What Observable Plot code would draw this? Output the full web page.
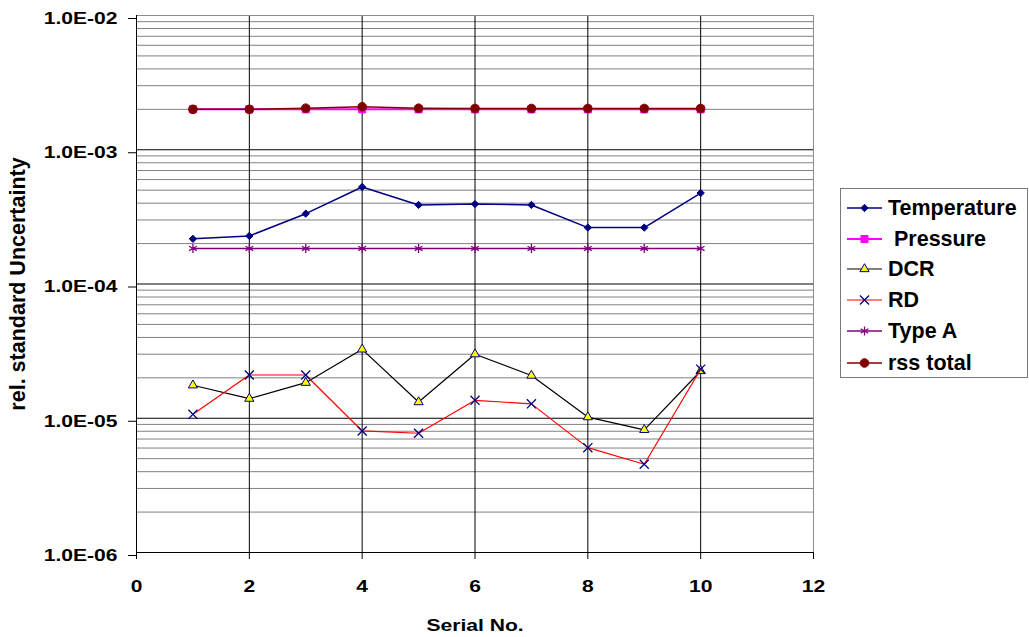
<!DOCTYPE html>
<html><head><meta charset="utf-8">
<script src="https://cdn.jsdelivr.net/npm/d3@7"></script>
<script src="https://cdn.jsdelivr.net/npm/@observablehq/plot@0.6"></script>
<style>
body{margin:0;background:#fff;}
#wrap{position:relative;width:1029px;height:637px;overflow:hidden;}
#legend{position:absolute;left:840px;top:188px;width:188px;height:190px;border:1px solid #7a7a7a;background:#fff;box-sizing:border-box;font-family:"Liberation Sans",Arial,sans-serif;font-weight:bold;font-size:21.5px;color:#000;}
.item{position:absolute;left:0;height:30px;display:flex;align-items:center;white-space:pre;}
.item svg{display:block;margin-left:6px;margin-right:5px;}
</style></head><body><div id="wrap"><div id="legend"></div></div>
<script>
// ---- data ----
const serial = [1, 2, 3, 4, 5, 6, 7, 8, 9, 10];
const temperature = [2.17e-4, 2.28e-4, 3.34e-4, 5.28e-4, 3.88e-4, 3.94e-4, 3.88e-4, 2.63e-4, 2.63e-4, 4.76e-4];
const pressure = [2.0e-3, 2.0e-3, 2.0e-3, 2.0e-3, 2.0e-3, 2.0e-3, 2.0e-3, 2.0e-3, 2.0e-3, 2.0e-3];
const dcr = [1.76e-5, 1.40e-5, 1.84e-5, 3.26e-5, 1.32e-5, 3.0e-5, 2.08e-5, 1.02e-5, 8.2e-6, 2.25e-5];
const rd = [1.07e-5, 2.10e-5, 2.10e-5, 8.04e-6, 7.73e-6, 1.36e-5, 1.28e-5, 6.04e-6, 4.54e-6, 2.32e-5];
const typeA = [1.84e-4, 1.84e-4, 1.84e-4, 1.84e-4, 1.84e-4, 1.84e-4, 1.84e-4, 1.84e-4, 1.84e-4, 1.84e-4];
const rssTotal = [2.0e-3, 2.0e-3, 2.04e-3, 2.09e-3, 2.04e-3, 2.03e-3, 2.03e-3, 2.03e-3, 2.03e-3, 2.03e-3];

const seriesNames = ["Temperature", " Pressure", "DCR", "RD", "Type A", "rss total"];
const xTicks = [0, 2, 4, 6, 8, 10, 12];
const yTicks = [1e-6, 1e-5, 1e-4, 1e-3, 1e-2];
const yTickLabels = ["1.0E-06", "1.0E-05", "1.0E-04", "1.0E-03", "1.0E-02"];
const xLabel = "Serial No.";
const yLabel = "rel. standard Uncertainty";

// ---- styles per series ----
const styles = [
  {values: temperature, line: "#000080", lw: 1.5, symbol: "diamond2", fill: "#000080", stroke: "#000080", r: 3.3},
  {values: pressure, line: "#FF00FF", lw: 2, symbol: "square", fill: "#FF00FF", stroke: "#FF00FF", r: 4},
  {values: dcr, line: "#000000", lw: 1.2, symbol: "triangle", fill: "#FFFF00", stroke: "#000080", r: 3.4},
  {values: rd, line: "#FF0000", lw: 1.2, symbol: "times", fill: "none", stroke: "#000080", r: 4.2},
  {values: typeA, line: "#800080", lw: 1.5, symbol: "asterisk", fill: "none", stroke: "#800080", r: 4.2},
  {values: rssTotal, line: "#800000", lw: 1.5, symbol: "circle", fill: "#800000", stroke: "#800000", r: 4.3}
];

const minorY = [];
for (let e = -6; e < -2; e++) for (let m = 2; m <= 9; m++) minorY.push(m * Math.pow(10, e));

const FONT = "Liberation Sans";
const marks = [
  Plot.ruleY(minorY, {stroke: "#808080", strokeWidth: 1}),
  Plot.ruleY(yTicks, {stroke: "#000", strokeWidth: 1}),
  Plot.ruleX(xTicks.slice(1, -1), {stroke: "#000", strokeWidth: 1}),
  Plot.frame({stroke: "#8c8c8c"}),
  Plot.ruleX([0], {stroke: "#000"}),
  Plot.ruleY([1e-6], {stroke: "#000"}),
  Plot.axisX({ticks: xTicks, tickSize: 7, tickPadding: 20, label: null, fontSize: 17, fontFamily: FONT, fontWeight: "bold"}),
  Plot.axisY({ticks: yTicks, tickSize: 8, tickPadding: 11, label: null, tickFormat: (d) => yTickLabels[yTicks.indexOf(d)], fontSize: 17, fontFamily: FONT, fontWeight: "bold", dy: 3}),
  Plot.text([xLabel], {text: (d) => d, frameAnchor: "bottom", dy: 78, lineAnchor: "bottom", fontSize: 17, fontFamily: FONT, fontWeight: "bold", fill: "#000"}),
  Plot.text([yLabel], {text: (d) => d, frameAnchor: "left", dx: -118, rotate: -90, textAnchor: "middle", fontSize: 21.5, fontFamily: FONT, fontWeight: "bold", fill: "#000"})
];

styles.forEach((s, k) => {
  const rows = serial.map((x, i) => ({x, y: s.values[i], name: seriesNames[k]}));
  marks.push(Plot.line(rows, {x: "x", y: "y", stroke: s.line, strokeWidth: s.lw}));
  marks.push(Plot.dot(rows, {x: "x", y: "y", symbol: () => s.symbol, r: s.r, fill: s.fill, stroke: s.stroke, strokeWidth: s.fill === "none" ? 1.3 : 1}));
});

const chart = Plot.plot({
  width: 1029, height: 637,
  marginLeft: 136, marginRight: 216, marginTop: 15, marginBottom: 85,
  style: {background: "#fff", color: "#000", fontFamily: FONT, fontWeight: "bold", fontSize: "17px"},
  x: {domain: [0, 12]},
  y: {type: "log", domain: [1e-6, 1e-2]},
  symbol: {type: "identity"},
  marks
});
document.getElementById("wrap").prepend(chart);

// widen the horizontal texts (the reference's lettering is stretched sideways)
chart.querySelectorAll("g[aria-label='x-axis tick label'] text, g[aria-label='y-axis tick label'] text").forEach((t) => {
  const w = t.getComputedTextLength();
  t.setAttribute("textLength", (w * 1.24).toFixed(1));
  t.setAttribute("lengthAdjust", "spacingAndGlyphs");
});
chart.querySelectorAll("g[aria-label='text'] text").forEach((t) => {
  if (t.textContent === xLabel) {
    const w = t.getComputedTextLength();
    t.setAttribute("textLength", (w * 1.24).toFixed(1));
    t.setAttribute("lengthAdjust", "spacingAndGlyphs");
  }
});

// ---- legend ----
const legend = document.getElementById("legend");
const ys = [19, 50, 80, 111, 142, 174];
const symMap = {diamond2: d3.symbolDiamond2, square: d3.symbolSquare, triangle: d3.symbolTriangle, times: d3.symbolTimes, asterisk: d3.symbolAsterisk, circle: d3.symbolCircle};
styles.forEach((s, k) => {
  const item = document.createElement("div");
  item.className = "item";
  item.style.top = (ys[k] - 15) + "px";
  const area = Math.PI * s.r * s.r;
  const path = d3.symbol(symMap[s.symbol], area)();
  item.innerHTML = `<svg width="36" height="20"><line x1="0" x2="35" y1="10" y2="10" stroke="${s.line}" stroke-width="${s.lw}"/><path transform="translate(17.5,10)" d="${path}" fill="${s.fill}" stroke="${s.stroke}" stroke-width="${s.fill === "none" ? 1.3 : 1}"/></svg><span></span>`;
  item.querySelector("span").textContent = seriesNames[k];
  legend.appendChild(item);
});
</script>
</body></html>
